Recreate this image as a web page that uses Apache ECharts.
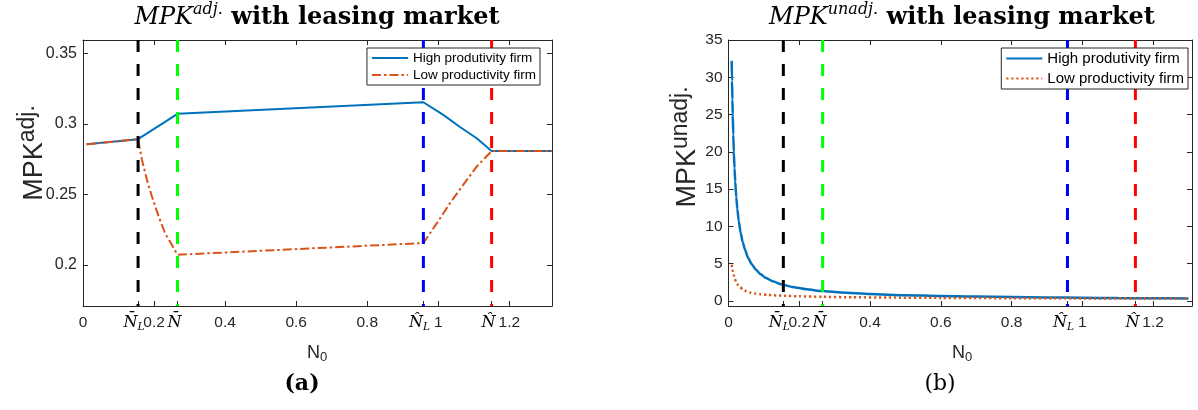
<!DOCTYPE html>
<html>
<head>
<meta charset="utf-8">
<script src="https://cdn.jsdelivr.net/npm/echarts@6/dist/echarts.min.js"></script>
<style>
  html, body { margin: 0; padding: 0; background: #ffffff; }
  #wrap { position: relative; width: 1198px; height: 410px; }
  #panelA { position: absolute; left: 0; top: 0; width: 600px; height: 410px; }
  #panelB { position: absolute; left: 600px; top: 0; width: 598px; height: 410px; }
</style>
</head>
<body>
<div id="wrap"><div id="panelA"></div><div id="panelB"></div></div>
<script>
// Threshold values of N0 (N_bar_L, N_bar, N_hat_L, N_hat)
const thresholds = [0.155, 0.266, 0.958, 1.15];
const thresholdColors = ['#000000', '#00ff00', '#0000ff', '#ff0000'];

// x-axis ticks, shared by both panels
const xTickValues = [0, 0.155, 0.2, 0.266, 0.4, 0.6, 0.8, 0.958, 1, 1.15, 1.2];
const xTickLabels = ['0', 'N\u0304_L', '0.2', 'N\u0304', '0.4', '0.6', '0.8', 'N\u0302_L', '1', 'N\u0302', '1.2'];

// Panel (a): adjusted MPK
const adjYTicks = [0.2, 0.25, 0.3, 0.35];
const adjYTickLabels = ['0.2', '0.25', '0.3', '0.35'];
const adjHighN = [0.01, 0.155, 0.266, 0.958, 1.014, 1.06, 1.108, 1.15, 1.32];
const adjHigh  = [0.2856, 0.2892, 0.3072, 0.3154, 0.3064, 0.2980, 0.2899, 0.2808, 0.2808];
const adjLowN  = [0.01, 0.155, 0.166, 0.180, 0.194, 0.213, 0.231, 0.250, 0.266, 0.958, 0.996, 1.033, 1.070, 1.108, 1.15, 1.32];
const adjLow   = [0.2856, 0.2892, 0.2745, 0.2604, 0.2486, 0.2344, 0.2226, 0.2144, 0.2073, 0.2156, 0.2297, 0.2439, 0.2568, 0.2698, 0.2808, 0.2808];

// Panel (b): unadjusted MPK
const unadjYTicks = [0, 5, 10, 15, 20, 25, 30, 35];
const unadjYTickLabels = ['0', '5', '10', '15', '20', '25', '30', '35'];
const unadjHighN = [0.009, 0.010, 0.011, 0.012, 0.0135, 0.015, 0.017, 0.019, 0.022, 0.025, 0.029, 0.034, 0.04, 0.047, 0.055, 0.065, 0.077, 0.09, 0.105, 0.125, 0.15, 0.18, 0.22, 0.265, 0.32, 0.4, 0.5, 0.6, 0.7, 0.8, 0.9, 1.0, 1.1, 1.2, 1.3];
const unadjHigh  = [32.2, 29.5, 27.0, 25.0, 22.3, 20.0, 17.8, 16.0, 13.9, 12.3, 10.7, 9.2, 7.9, 6.8, 5.8, 4.95, 4.2, 3.6, 3.1, 2.62, 2.2, 1.86, 1.55, 1.3, 1.1, 0.9, 0.75, 0.64, 0.56, 0.5, 0.45, 0.41, 0.37, 0.34, 0.31];
const unadjLowN  = [0.009, 0.0105, 0.012, 0.0136, 0.0155, 0.0175, 0.02, 0.023, 0.027, 0.0325, 0.04, 0.05, 0.062, 0.075, 0.09, 0.11, 0.135, 0.158, 0.2, 0.265, 0.35, 0.45, 0.6, 0.8, 1.0, 1.15, 1.3];
const unadjLow   = [4.84, 4.4, 4.0, 3.7, 3.35, 3.0, 2.7, 2.4, 2.1, 1.85, 1.55, 1.3, 1.1, 0.97, 0.88, 0.79, 0.72, 0.67, 0.6, 0.53, 0.47, 0.43, 0.39, 0.35, 0.32, 0.3, 0.29];

const seriesNames = ['High produtivity firm', 'Low productivity firm'];

const AXIS = '#262626';
const SANS = 'Liberation Sans';
const SERIF = 'DejaVu Serif';

function zip(xs, ys) { return xs.map((x, i) => [x, ys[i]]); }

function lookup(v, values, labels) {
  const i = values.findIndex(t => Math.abs(t - v) < 1e-6);
  return i >= 0 ? labels[i] : String(v);
}

const isNumeric = s => /^[0-9.\-]+$/.test(s);
// Numeric tick positions and symbolic (threshold) tick positions go on separate label rows
const numericTickValues = xTickValues.filter((v, i) => isNumeric(xTickLabels[i]));
const symbolTickValues = xTickValues.filter((v, i) => !isNumeric(xTickLabels[i]));

// Symbolic ticks are set in italic serif with an optional subscript
function symbolTickText(v) {
  const s = lookup(v, xTickValues, xTickLabels);
  const parts = s.split('_');
  return parts.length > 1 ? '{it|' + parts[0] + '}{sub|' + parts[1] + '}' : '{one|' + s + '}';
}

function buildOption(cfg) {
  const axisLine = { show: true, onZero: false, lineStyle: { color: AXIS, width: 1 } };
  const tickStyle = { show: true, inside: true, length: 5, lineStyle: { color: AXIS, width: 1 } };
  const xAxisBase = { type: 'value', min: 0, max: cfg.xMax, splitLine: { show: false }, axisLine: axisLine };
  const yAxisBase = { type: 'value', min: cfg.yMin, max: cfg.yMax, splitLine: { show: false }, axisLine: axisLine };

  const series = [
    {
      name: seriesNames[0], type: 'line', data: zip(cfg.highN, cfg.high),
      symbol: 'none', smooth: cfg.smooth, smoothMonotone: 'x', z: 3,
      lineStyle: { color: '#0072BD', width: cfg.highWidth }, itemStyle: { color: '#0072BD' }
    },
    {
      name: seriesNames[1], type: 'line', data: zip(cfg.lowN, cfg.low),
      symbol: 'none', smooth: cfg.smooth, smoothMonotone: 'x', z: 4,
      lineStyle: { color: '#D95319', width: cfg.lowWidth, type: cfg.lowDash, cap: 'butt' },
      itemStyle: { color: '#D95319' }
    }
  ];
  thresholds.forEach((t, i) => {
    series.push({
      type: 'line', data: [[t, cfg.yMax], [t, cfg.yMin]], symbol: 'none', silent: true, z: 5,
      lineStyle: { color: thresholdColors[i], width: 3, type: [12, 12], cap: 'butt' }
    });
  });

  return {
    animation: false,
    backgroundColor: '#ffffff',
    grid: cfg.grid,
    xAxis: [
      Object.assign({}, xAxisBase, {
        position: 'bottom',
        axisTick: Object.assign({ customValues: xTickValues }, tickStyle),
        axisLabel: {
          customValues: numericTickValues, margin: 9, hideOverlap: false,
          formatter: v => lookup(v, xTickValues, xTickLabels),
          color: AXIS, fontFamily: SANS, fontSize: 15.5
        }
      }),
      Object.assign({}, xAxisBase, {
        position: 'top',
        axisTick: Object.assign({ customValues: xTickValues }, tickStyle),
        axisLabel: { show: false }
      }),
      Object.assign({}, xAxisBase, {
        position: 'bottom',
        axisLine: { show: false, onZero: false },
        axisTick: { show: false },
        axisLabel: {
          customValues: symbolTickValues, margin: 9, hideOverlap: false, formatter: symbolTickText,
          rich: {
            it: { fontFamily: SERIF, fontStyle: 'italic', fontSize: 16, color: '#000', lineHeight: 18, verticalAlign: 'top' },
            one: { fontFamily: SERIF, fontStyle: 'italic', fontSize: 16, color: '#000', lineHeight: 18, verticalAlign: 'top', padding: [0, 6, 0, 0] },
            sub: { fontFamily: SERIF, fontStyle: 'italic', fontSize: 10.5, color: '#000', lineHeight: 11, padding: [11, 8, 0, 0], verticalAlign: 'bottom' }
          }
        }
      })
    ],
    yAxis: [
      Object.assign({}, yAxisBase, {
        position: 'left',
        axisTick: Object.assign({ customValues: cfg.yTicks }, tickStyle),
        axisLabel: {
          customValues: cfg.yTicks, margin: 6, hideOverlap: false, color: AXIS, fontFamily: SANS, fontSize: cfg.yFont,
          formatter: v => lookup(v, cfg.yTicks, cfg.yTickLabels)
        }
      }),
      Object.assign({}, yAxisBase, {
        position: 'right',
        axisTick: Object.assign({ customValues: cfg.yTicks }, tickStyle),
        axisLabel: { show: false }
      })
    ],
    legend: Object.assign({
      orient: 'vertical', z: 10, itemWidth: 36, backgroundColor: '#ffffff',
      borderColor: AXIS, borderWidth: 1, borderRadius: 0,
      itemStyle: { opacity: 0 },
      data: seriesNames
    }, cfg.legend),
    series: series,
    graphic: [
      {
        type: 'text', x: cfg.titleX, y: 16, z: 20,
        style: {
          text: '{m|MPK}{s|' + cfg.sup + '}{b| with leasing market}', align: 'center', verticalAlign: 'middle', fill: '#000',
          rich: {
            m: { fontFamily: SERIF, fontStyle: 'italic', fontSize: 24, lineHeight: 28, verticalAlign: 'bottom' },
            s: { fontFamily: SERIF, fontStyle: 'italic', fontSize: 16, lineHeight: 15, verticalAlign: 'top' },
            b: { fontFamily: SERIF, fontWeight: 'bold', fontSize: 24, lineHeight: 28, verticalAlign: 'bottom' }
          }
        }
      },
      {
        type: 'text', x: cfg.yLabelX, y: cfg.yLabelY, rotation: Math.PI / 2, z: 20,
        style: {
          text: '{a|MPK}{b|' + cfg.supY + '}', align: 'center', verticalAlign: 'middle', fill: AXIS,
          rich: {
            a: { fontFamily: SANS, fontSize: 27, lineHeight: 32, verticalAlign: 'bottom' },
            b: { fontFamily: SANS, fontSize: 23, lineHeight: 24, verticalAlign: 'top' }
          }
        }
      },
      {
        type: 'text', x: cfg.titleX, y: 354, z: 20,
        style: {
          text: '{n|N}{s|0}', align: 'center', verticalAlign: 'middle', fill: AXIS,
          rich: {
            n: { fontFamily: SANS, fontSize: 18, lineHeight: 19, verticalAlign: 'top' },
            s: { fontFamily: SANS, fontSize: 13, lineHeight: 13, padding: [15, 0, 0, 0], verticalAlign: 'bottom' }
          }
        }
      },
      {
        type: 'text', x: cfg.panelX, y: 384, z: 20,
        style: {
          text: cfg.panel, align: 'center', verticalAlign: 'middle', fill: '#000',
          fontFamily: SERIF, fontSize: 22, fontWeight: cfg.panelWeight
        }
      }
    ]
  };
}

const chartA = echarts.init(document.getElementById('panelA'));
chartA.setOption(buildOption({
  grid: { left: 83, top: 40, width: 469, height: 266 },
  xMax: 1.32, yMin: 0.171, yMax: 0.3595,
  yTicks: adjYTicks, yTickLabels: adjYTickLabels, yFont: 16,
  highN: adjHighN, high: adjHigh, lowN: adjLowN, low: adjLow,
  smooth: false, highWidth: 2, lowWidth: 2, lowDash: [9, 3, 2.5, 3],
  legend: { right: 60, top: 48, itemHeight: 14, itemGap: 3, padding: [3, 4, 3, 4],
            textStyle: { fontFamily: SANS, fontSize: 13.5, color: '#000' } },
  titleX: 317, sup: 'adj.', supY: 'adj.', yLabelX: 32, yLabelY: 153,
  panel: '(a)', panelX: 302, panelWeight: 'bold'
}));

const chartB = echarts.init(document.getElementById('panelB'));
chartB.setOption(buildOption({
  grid: { left: 128.5, top: 40, width: 463.5, height: 266 },
  xMax: 1.31, yMin: -0.7, yMax: 35,
  yTicks: unadjYTicks, yTickLabels: unadjYTickLabels, yFont: 15.5,
  highN: unadjHighN, high: unadjHigh, lowN: unadjLowN, low: unadjLow,
  smooth: 0.2, highWidth: 2.5, lowWidth: 2.5, lowDash: [2.2, 2.8],
  legend: { right: 10, top: 48, itemHeight: 15, itemGap: 5, padding: [3, 4, 3, 4],
            textStyle: { fontFamily: SANS, fontSize: 15, color: '#000' } },
  titleX: 362, sup: 'unadj.', supY: 'unadj.', yLabelX: 85, yLabelY: 147,
  panel: '(b)', panelX: 340, panelWeight: 'normal'
}));
</script>
</body>
</html>
